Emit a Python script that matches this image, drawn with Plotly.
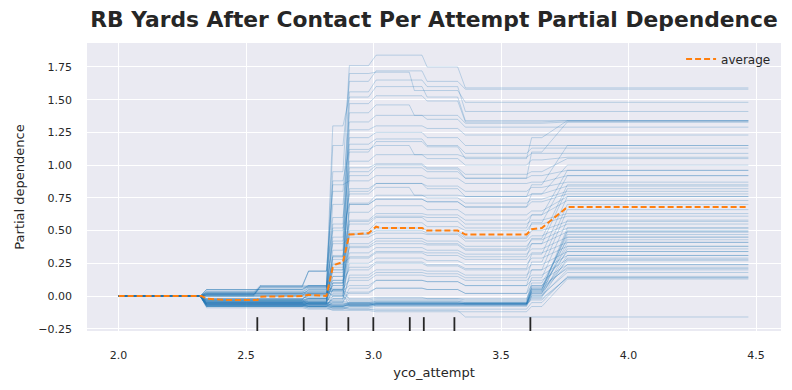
import plotly.graph_objects as go

# ICE grid: each curve is flat on these x-intervals (start, end)
STAGE_START = [2.0, 2.345, 2.555, 2.745, 2.84, 2.905, 3.01, 3.16, 3.21, 3.36, 3.62, 3.76]
STAGE_END = [2.32, 2.53, 2.72, 2.815, 2.88, 2.98, 3.14, 3.19, 3.33, 3.60, 3.66, 4.47]

# Individual (centered) ICE curve levels on stages 1..11 (stage 0 is 0 for all)
ice_high = [
    [-0.03, -0.03, 0.02, 0.95, 1.76, 1.84, 1.84, 1.75, 1.59, 1.59, 1.59],
    [-0.05, -0.05, -0.02, 0.55, 1.70, 1.71, 1.57, 1.57, 1.48, 1.48, 1.48],
    [0.00, 0.00, 0.05, 1.15, 1.64, 1.72, 1.72, 1.64, 1.58, 1.58, 1.58],
    [-0.07, -0.07, -0.05, 0.35, 1.56, 1.65, 1.65, 1.60, 1.41, 1.41, 1.41],
    [0.02, 0.07, 0.07, 1.30, 1.52, 1.60, 1.60, 1.52, 1.34, 1.34, 1.34],
    [-0.04, -0.04, -0.01, 0.20, 1.47, 1.53, 1.53, 1.49, 1.33, 1.33, 1.34],
    [0.01, 0.07, 0.19, 0.80, 1.40, 1.46, 1.38, 1.38, 1.32, 1.32, 1.33],
    [-0.02, -0.02, 0.00, 0.50, 1.33, 1.38, 1.38, 1.35, 1.29, 1.29, 1.29],
    [-0.06, -0.06, -0.04, 0.10, 1.27, 1.30, 1.30, 1.28, 1.23, 1.23, 1.23],
    [0.03, 0.03, 0.06, 0.70, 1.21, 1.25, 1.25, 1.21, 1.15, 1.15, 1.15],
    [-0.03, -0.03, -0.02, 0.30, 1.16, 1.20, 1.20, 1.15, 1.09, 1.13, 1.13],
    [0.00, 0.07, 0.07, 0.88, 1.12, 1.15, 1.08, 1.08, 1.06, 1.09, 1.09],
    [-0.08, -0.08, -0.06, 0.05, 1.03, 1.08, 1.08, 1.05, 1.00, 1.04, 1.06],
    [0.05, 0.05, 0.08, 0.60, 0.98, 1.01, 1.01, 0.98, 0.93, 0.95, 1.05],
    [-0.05, -0.05, -0.03, 0.22, 0.92, 0.98, 0.98, 0.95, 0.90, 0.92, 0.96],
    [0.01, 0.08, 0.19, 0.85, 0.88, 0.92, 0.92, 0.90, 0.86, 0.87, 0.92],
    [-0.04, -0.04, -0.06, 0.28, 0.82, 0.86, 0.86, 0.84, 0.80, 0.83, 0.87],
    [0.02, 0.02, 0.05, 0.42, 0.78, 0.83, 0.77, 0.77, 0.76, 0.78, 0.84],
    [-0.06, -0.06, -0.08, 0.00, 0.71, 0.77, 0.77, 0.75, 0.71, 0.74, 0.80],
    [0.01, 0.07, 0.19, 0.52, 0.70, 0.74, 0.74, 0.72, 0.68, 0.72, 0.78],
    [-0.02, -0.02, 0.01, 0.18, 0.64, 0.69, 0.69, 0.66, 0.62, 0.65, 0.76],
    [0.00, 0.00, -0.02, 0.08, 0.58, 0.63, 0.63, 0.62, 0.58, 0.62, 0.73],
    [-0.07, -0.07, -0.05, 0.31, 0.57, 0.61, 0.61, 0.60, 0.55, 0.58, 0.63],
    [0.03, 0.08, 0.08, 0.05, 0.50, 0.56, 0.56, 0.53, 0.50, 0.55, 0.61],
    [-0.05, -0.05, -0.03, 0.24, 0.47, 0.50, 0.50, 0.48, 0.44, 0.50, 0.57],
    [0.04, 0.04, 0.07, 0.40, 0.45, 0.48, 0.48, 0.47, 0.42, 0.46, 0.55],
    [-0.08, -0.08, -0.07, -0.02, 0.40, 0.44, 0.44, 0.42, 0.38, 0.43, 0.52],
    [0.01, 0.01, 0.02, 0.15, 0.37, 0.40, 0.40, 0.39, 0.35, 0.40, 0.49],
    [-0.03, -0.03, -0.05, 0.10, 0.33, 0.37, 0.37, 0.35, 0.32, 0.36, 0.45],
    [0.05, 0.05, 0.08, 0.25, 0.29, 0.33, 0.33, 0.31, 0.28, 0.33, 0.41],
    [-0.06, -0.06, -0.04, 0.02, 0.25, 0.29, 0.29, 0.27, 0.24, 0.29, 0.38],
    [0.00, 0.00, 0.01, 0.12, 0.20, 0.25, 0.25, 0.23, 0.20, 0.24, 0.34],
    [-0.04, -0.04, -0.06, -0.03, 0.16, 0.20, 0.20, 0.19, 0.16, 0.20, 0.31],
    [0.02, 0.02, 0.04, 0.06, 0.12, 0.16, 0.16, 0.15, 0.12, 0.16, 0.28],
    [-0.07, -0.07, -0.08, -0.05, 0.06, 0.12, 0.12, 0.11, 0.08, 0.12, 0.24],
    [0.03, 0.03, 0.02, 0.04, 0.02, 0.06, 0.06, 0.05, 0.02, 0.08, 0.21],
]

ice_mixed = [
    [-0.02, -0.02, 0.00, 0.45, 1.10, 1.18, 1.18, 1.14, 1.05, 1.21, 1.34],
    [-0.05, -0.05, -0.04, 0.15, 0.95, 1.00, 1.00, 0.97, 0.90, 1.10, 1.33],
    [0.01, 0.01, 0.03, 0.30, 0.80, 0.86, 0.86, 0.82, 0.76, 0.85, 1.15],
    [-0.04, -0.04, -0.02, 0.10, 0.70, 0.74, 0.74, 0.72, 0.68, 0.78, 1.00],
    [0.03, 0.03, 0.06, 0.20, 0.55, 0.60, 0.60, 0.57, 0.52, 0.62, 0.96],
    [-0.06, -0.06, -0.05, 0.05, 0.48, 0.52, 0.52, 0.50, 0.45, 0.56, 0.92],
    [0.00, 0.00, 0.02, 0.12, 0.38, 0.42, 0.42, 0.40, 0.36, 0.44, 0.85],
    [-0.03, -0.03, -0.04, 0.00, 0.30, 0.34, 0.34, 0.33, 0.30, 0.40, 0.82],
    [0.02, 0.02, 0.01, 0.08, 0.22, 0.26, 0.26, 0.24, 0.21, 0.32, 0.76],
    [-0.05, -0.05, -0.06, -0.02, 0.14, 0.18, 0.18, 0.17, 0.14, 0.26, 0.70],
    [0.01, 0.01, 0.03, 0.04, 0.08, 0.12, 0.12, 0.11, 0.08, 0.20, 0.66],
    [-0.07, -0.07, -0.06, -0.04, 0.03, 0.06, 0.06, 0.05, 0.02, 0.14, 0.58],
]

ice_low = [
    [-0.06, -0.06, -0.07, -0.08, -0.06, -0.05, -0.05, -0.05, -0.06, 0.05, 0.52],
    [-0.07, -0.07, -0.08, -0.08, -0.07, -0.06, -0.06, -0.06, -0.06, 0.04, 0.49],
    [-0.05, -0.05, -0.06, -0.07, -0.05, -0.04, -0.04, -0.04, -0.05, 0.07, 0.47],
    [-0.08, -0.08, -0.09, -0.10, -0.08, -0.07, -0.07, -0.07, -0.07, 0.02, 0.45],
    [0.05, 0.05, 0.07, 0.03, -0.03, -0.02, -0.02, -0.02, -0.03, 0.10, 0.43],
    [-0.06, -0.06, -0.06, -0.07, -0.06, -0.06, -0.06, -0.06, -0.06, 0.03, 0.41],
    [-0.03, -0.03, -0.02, -0.04, -0.05, -0.04, -0.04, -0.04, -0.05, 0.06, 0.38],
    [-0.07, -0.07, -0.08, -0.09, -0.08, -0.07, -0.07, -0.07, -0.07, 0.00, 0.36],
    [0.02, 0.02, 0.04, 0.00, -0.04, -0.03, -0.03, -0.03, -0.04, 0.08, 0.34],
    [-0.06, -0.06, -0.07, -0.08, -0.06, -0.06, -0.06, -0.06, -0.06, 0.02, 0.31],
    [-0.08, -0.08, -0.08, -0.09, -0.09, -0.08, -0.08, -0.08, -0.08, -0.01, 0.29],
    [-0.04, -0.04, -0.05, -0.06, -0.05, -0.05, -0.05, -0.05, -0.05, 0.04, 0.27],
    [-0.06, -0.06, -0.06, -0.07, -0.07, -0.06, -0.06, -0.06, -0.06, 0.03, 0.24],
    [0.01, 0.06, 0.08, 0.04, -0.02, -0.01, -0.01, -0.02, -0.02, 0.06, 0.22],
    [-0.07, -0.07, -0.07, -0.08, -0.07, -0.07, -0.07, -0.07, -0.07, 0.00, 0.20],
    [-0.05, -0.05, -0.06, -0.06, -0.06, -0.05, -0.05, -0.05, -0.06, 0.01, 0.18],
    [-0.09, -0.09, -0.10, -0.10, -0.10, -0.10, -0.10, -0.10, -0.10, -0.05, 0.15],
    [-0.06, -0.06, -0.07, -0.07, -0.07, -0.06, -0.06, -0.06, -0.06, -0.02, 0.14],
    [-0.08, -0.08, -0.09, -0.11, -0.11, -0.12, -0.12, -0.12, -0.12, -0.08, 0.13],
    [-0.04, -0.04, -0.05, -0.05, -0.06, -0.06, -0.06, -0.06, -0.06, -0.03, 0.14],
    [-0.07, -0.07, -0.08, -0.09, -0.10, -0.11, -0.11, -0.11, -0.16, -0.16, -0.16],
    [-0.03, -0.03, 0.03, 0.01, -0.07, -0.06, -0.06, -0.06, -0.06, 0.05, 0.50],
]

# Average (partial dependence) curve
avg_x = [2.0, 2.325, 2.345, 2.42, 2.545, 2.555, 2.72, 2.745, 2.815, 2.84, 2.85, 2.87, 2.88,
         2.905, 2.98, 3.01, 3.03, 3.19, 3.21, 3.33, 3.36, 3.60, 3.62, 3.66, 3.76, 4.47]
avg_y = [0.0, 0.0, -0.02, -0.03, -0.03, -0.005, 0.0, 0.01, 0.0, 0.22, 0.24, 0.25, 0.26,
         0.47, 0.48, 0.53, 0.52, 0.52, 0.50, 0.50, 0.47, 0.47, 0.51, 0.52, 0.68, 0.68]

# Deciles of yco_attempt (rug marks)
deciles = [2.544, 2.726, 2.816, 2.901, 2.999, 3.142, 3.197, 3.317, 3.615]

x_ticks = [2.0, 2.5, 3.0, 3.5, 4.0, 4.5]
y_ticks = [-0.25, 0.0, 0.25, 0.5, 0.75, 1.0, 1.25, 1.5, 1.75]

TEXT = "#262626"
FONT = "DejaVu Sans"

fig = go.Figure()

for row in ice_high + ice_mixed + ice_low:
    levels = [0.0] + row
    xs, ys = [], []
    for s, e, v in zip(STAGE_START, STAGE_END, levels):
        xs += [s, e]
        ys += [v, v]
    fig.add_trace(go.Scatter(
        x=xs, y=ys, mode="lines",
        line=dict(color="rgba(31,119,180,0.32)", width=0.8),
        showlegend=False, hoverinfo="skip",
    ))

fig.add_trace(go.Scatter(
    x=avg_x, y=avg_y, mode="lines", name="average",
    line=dict(color="#ff7f0e", width=2, dash="6px,3px"),
))

for d in deciles:
    fig.add_shape(type="line", xref="x", yref="paper", x0=d, x1=d, y0=0, y1=0.048,
                  line=dict(color="#262626", width=1.8))

fig.update_layout(
    width=784, height=382,
    margin=dict(l=73, r=11, t=35, b=59),
    paper_bgcolor="white",
    plot_bgcolor="#EAEAF2",
    font=dict(family=FONT, color=TEXT, size=11),
    title=dict(text="RB Yards After Contact Per Attempt Partial Dependence",
               font=dict(family=FONT, size=21.8, weight="bold", color=TEXT),
               x=0.5, xref="paper", xanchor="center",
               y=1 - 11 / 382, yref="container", yanchor="middle"),
    legend=dict(x=0.856, xanchor="left", y=0.995, yanchor="top",
                bgcolor="rgba(0,0,0,0)", font=dict(size=12, color=TEXT),
                itemwidth=30),
    xaxis=dict(range=[1.876, 4.598], tickvals=x_ticks, tickformat=".1f",
               showgrid=True, gridcolor="white", gridwidth=1, zeroline=False,
               showline=False, ticks="", ticklabelstandoff=16,
               tickfont=dict(size=11, color=TEXT),
               title=dict(text="yco_attempt", font=dict(size=13, color=TEXT), standoff=6)),
    yaxis=dict(range=[-0.267, 1.933], tickvals=y_ticks, tickformat=".2f",
               showgrid=True, gridcolor="white", gridwidth=1, zeroline=False,
               showline=False, ticks="", ticklabelstandoff=14,
               tickfont=dict(size=11, color=TEXT),
               title=dict(text="Partial dependence", font=dict(size=13, color=TEXT), standoff=10)),
)

fig.write_html("out.html")
